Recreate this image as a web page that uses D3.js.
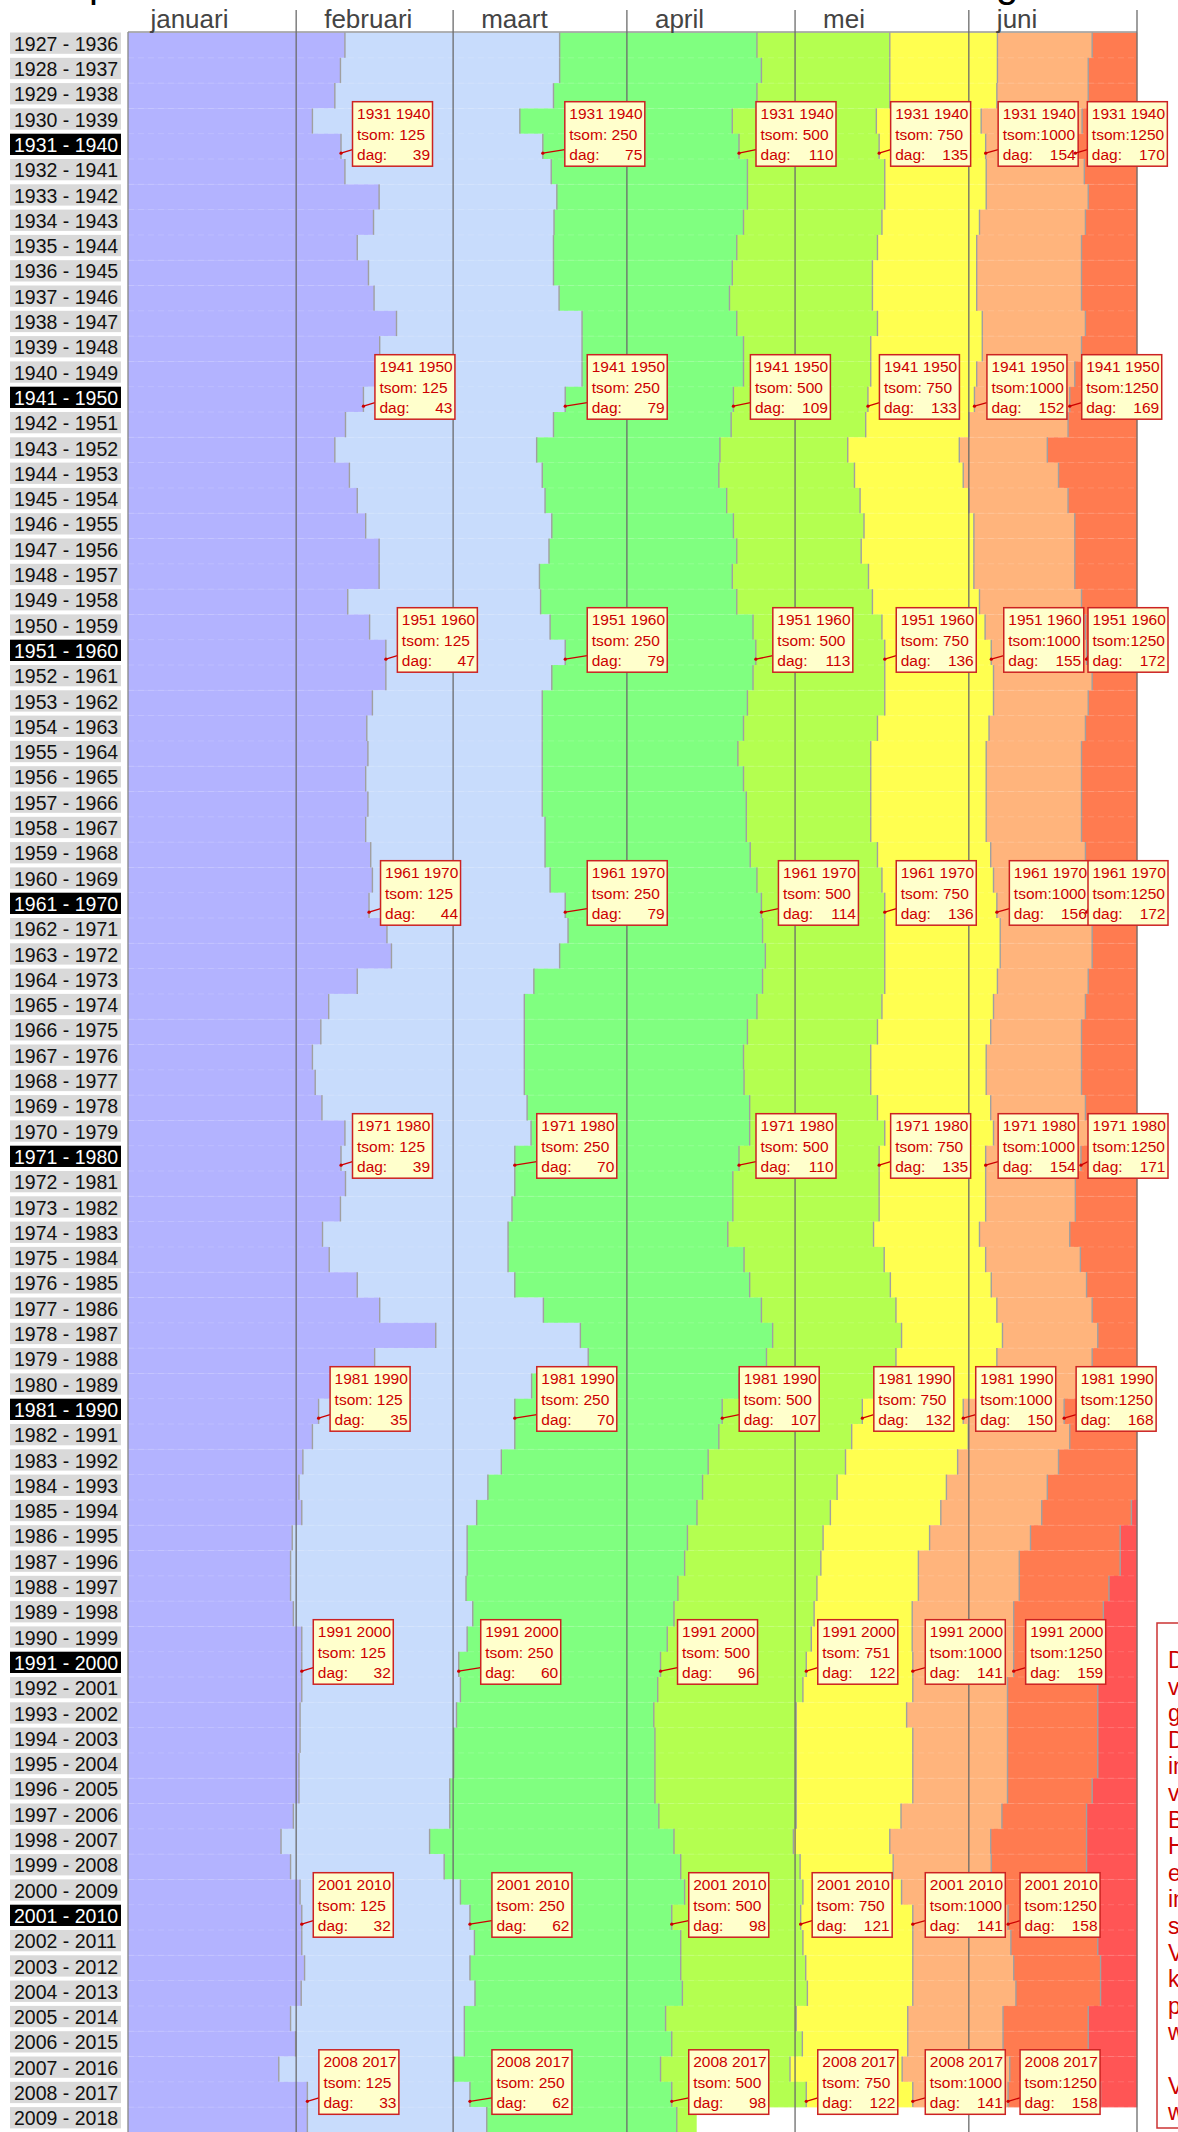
<!DOCTYPE html>
<html>
<head>
<meta charset="utf-8">
<script src="https://cdn.jsdelivr.net/npm/d3@7"></script>
<style>
body { margin: 0; background: #fff; overflow: hidden; }
svg { display: block; font-family: "Liberation Sans", Arial, sans-serif; }
</style>
</head>
<body>
<div class="container"></div>
<script>
// perioden van tien jaar
var startJaren = d3.range(1927, 2010);
var perioden = startJaren.map(function(j) { return j + " - " + (j + 9); });
var gemarkeerd = ["1931 - 1940", "1941 - 1950", "1951 - 1960", "1961 - 1970", "1971 - 1980", "1981 - 1990", "1991 - 2000", "2001 - 2010"];

// temperatuursommen en de dag van het jaar waarop ze bereikt worden
var drempels = [125, 250, 500, 750, 1000, 1250, 1500];
var dag125 = [39.7,38.9,37.9,33.9,39,39.7,45.8,44.8,41.9,43.9,
  44.9,48.9,45.9,45.9,43,39.8,37.9,40.5,41.9,43.4,
  45.8,45.8,40.2,44.1,47,47,44.6,43.6,43.8,43.4,
  43.8,43.4,44.3,44.6,44,47.2,48,41.9,36.8,35.4,
  33.9,34.4,35.6,39.7,39,39.8,38.9,35.7,36.9,41.9,
  45.9,55.9,45,38,35,33.9,32.2,31.5,32,30.3,
  30,30,30.5,32,32,32,31.7,31.7,31.5,31.5,
  30.5,28.3,30,31.7,32,32,32.5,31.9,30,30.9,
  27.9,33,33];
var dag250 = [78,78,76.9,70.9,75,76.5,77.5,77,76.9,76.9,
  77.9,82,82,82,79,76.9,73.9,74.9,75.4,76.6,
  76.1,74.4,74.6,76.3,79,76.6,74.9,74.9,74.9,74.9,
  74.9,75.4,75.4,76.3,79,79.5,78,73.4,71.7,71.7,
  71.7,71.7,72.2,72.9,70,70,69.5,68.8,68.8,70,
  75.1,81.7,83.1,73,70,70,67.6,65.2,63.2,61.5,
  61.5,61.3,62.5,61.5,60,60.3,59.6,59.1,59.1,58.4,
  58.4,54.8,57.4,60.3,62,62.8,62,62.9,61,61,
  59.1,62,65];
var dag500 = [113.2,114,113.2,108.8,110,111.5,111.5,110.8,109.6,108.8,
  108.3,109.6,110.8,110.8,109,108.6,106.6,106.4,107.8,109,
  109.6,108.8,109.6,112.5,113,112.5,111.5,110.8,109.8,110.8,
  111.3,111.3,112,113.2,114,114.2,114.7,114.2,113.2,111.5,
  110.8,110.9,111.9,111.9,110,108.9,108.9,108,110.9,111.9,
  114,116,114.9,110,107,106.4,104.5,103.5,102.5,100.8,
  100.3,99.1,98.4,97.2,96,95.5,94.8,95,95,95,
  95.7,98.4,99.6,100.3,98,99.6,99.6,99.9,96.9,98,
  96,98,98.9];
var dag750 = [136.9,136.9,136.9,134.5,135,136,136,135.5,134.7,133.8,
  133.8,134.7,133.5,133.5,133,132.6,129.4,130.6,131.6,132.3,
  131.8,133.1,133.8,135.5,136,136,136,134.7,133.5,133.5,
  133.5,133.5,134.7,135.5,136,136,136,136,135.5,134.7,
  133.5,133.5,134.7,136,135,135,135,134,135.9,137,
  138,139,138,136,132,130.1,129,127.5,126.3,125,
  124.6,123.9,123.4,122.9,122,121.4,120.2,120.2,120.2,120.2,
  120.2,119.7,120.9,121.4,121,121.4,121.9,122.2,120.2,121.3,
  119.1,122,null];
var dag1000 = [156.1,156.1,156,153.2,154,154.1,154.1,152.9,152.4,152.4,
  152.4,153.4,153.4,152.4,152,151,149.3,150,151,151.9,
  151.9,151.9,152.9,153.9,155,155.4,155.4,154.6,154.1,154.1,
  154.1,154.1,154.9,155.4,156,156.6,156.6,156.1,155.4,154.9,
  154.1,154.1,154.9,155.4,154,154,154,152.9,154,155,
  156,157,156,156,150,150.9,149,147,146,144,
  142,142,140.9,140.9,141,141,139.9,141,141,141,
  138.9,136.9,137.5,139,141,141,141,141,140.1,140.1,
  139.1,141,null];
var dag1250 = [173,172.3,172.3,171.2,170,171.6,172.3,171.8,171.1,171.1,
  171.1,171.8,171.1,169.9,169,168.7,165,167,168.7,169.9,
  169.9,169.9,171.1,171.8,172,173,172.3,171.8,171.1,171.1,
  171.1,171.1,171.8,172.3,172,173,173,172.3,171.8,171.1,
  171.1,171.1,171.8,172.3,171,170,170,169,170.9,172,
  173,174,173,173,168,169,167,165,164,162,
  160,160,159,159,159,157.9,157.9,157.9,157.9,157.9,
  156.9,154.9,155,157,158,158.5,159,159.4,157.1,157.1,
  158.3,158,null];
var dag1500 = [null,null,null,null,null,null,null,null,null,null,
  null,null,null,null,null,null,null,null,null,null,
  null,null,null,null,null,null,null,null,null,null,
  null,null,null,null,null,null,null,null,null,null,
  null,null,null,null,null,null,null,null,null,null,
  null,null,null,null,null,null,null,null,180,178,
  178,176,175,175,175,174,174,174,174,173,
  172,172,172,173,173.5,174,174.5,174.5,172.3,172.3,
  173.4,174.5,null];
// de laatste periode heeft nog geen volledig jaar
var laatstePeriodeTot = 102.4;

// maanden
var maanden = ["januari", "februari", "maart", "april", "mei", "juni"];
var maandStart = [0, 31, 59, 90, 120, 151];
var eindDag = 181;

// labels met tsom en dag
var labelPerioden = ["1931 - 1940", "1941 - 1950", "1951 - 1960", "1961 - 1970", "1971 - 1980", "1981 - 1990", "1991 - 2000", "2001 - 2010", "2008 - 2017"];
var labelTsom = [
  [125, 250, 500, 750, 1000, 1250],
  [125, 250, 500, 750, 1000, 1250],
  [125, 250, 500, 750, 1000, 1250],
  [125, 250, 500, 750, 1000, 1250],
  [125, 250, 500, 750, 1000, 1250],
  [125, 250, 500, 750, 1000, 1250],
  [125, 250, 500, 751, 1000, 1250],
  [125, 250, 500, 750, 1000, 1250],
  [125, 250, 500, 750, 1000, 1250]
];

// tekstvak rechts (valt grotendeels buiten beeld)
var uitlegRegels = ["D", "v", "g", "D", "in", "v", "B", "H", "e", "in", "s", "V", "k", "p", "w", "", "V", "w"];

var reeksen = [dag125, dag250, dag500, dag750, dag1000, dag1250, dag1500];
var kleuren = ["#b3b3ff", "#c8dcfc", "#80ff80", "#b4ff50", "#ffff50", "#ffb47c", "#ff7b50", "#ff5555"];
var boxAfstand = [11.5, 22, 17, 11.5, 12.5, 12];

// canvas
var main_svg_w = 1178;
var main_svg_h = 2132;

var svg = d3.select(".container")
            .append("svg")
            .attr("width", main_svg_w)
            .attr("height", main_svg_h);

// schalen
var x = d3.scaleLinear().domain([1, eindDag]).range([128, 1137]);
var y = d3.scaleBand().domain(perioden).range([32.5, 32.5 + perioden.length * 25.3]).padding(0);
var rh = y.bandwidth();

// balken per periode opbouwen
var segmenten = [];
var randen = [];
perioden.forEach(function(p, k) {
  var eind = (k == perioden.length - 1) ? laatstePeriodeTot : eindDag;
  var van = 1;
  for (var i = 0; i < 8; i++) {
    var g = (i < 7) ? reeksen[i][k] : null;
    var tot = (g != null) ? Math.min(g, eind) : eind;
    if (tot > van) segmenten.push({periode: p, band: i, van: van, tot: tot});
    if (g != null && g < eind) randen.push({periode: p, dag: g});
    van = tot;
    if (g == null) break;
  }
});

svg.append("g")
   .attr("class", "banden")
   .selectAll("rect")
   .data(segmenten)
   .enter()
   .append("rect")
   .attr("x", function(d) { return x(d.van); })
   .attr("y", function(d) { return y(d.periode); })
   .attr("width", function(d) { return x(d.tot) - x(d.van) + 0.3; })
   .attr("height", rh + 0.3)
   .style("fill", function(d) { return kleuren[d.band]; });

// grijze randjes bij de overgangen
svg.append("g")
   .attr("class", "randen")
   .selectAll("line")
   .data(randen)
   .enter()
   .append("line")
   .attr("x1", function(d) { return x(d.dag); })
   .attr("x2", function(d) { return x(d.dag); })
   .attr("y1", function(d) { return y(d.periode); })
   .attr("y2", function(d) { return y(d.periode) + rh; })
   .style("stroke", "#a0a0a0")
   .style("stroke-width", 1.4);

// vage scheidingslijnen tussen de rijen
svg.append("g")
   .attr("class", "rijlijnen")
   .selectAll("line")
   .data(perioden.slice(1))
   .enter()
   .append("line")
   .attr("x1", x(1))
   .attr("x2", x(eindDag))
   .attr("y1", function(d) { return y(d); })
   .attr("y2", function(d) { return y(d); })
   .style("stroke", "#fff")
   .style("stroke-opacity", 0.14)
   .style("stroke-dasharray", "6,4");

// periodelabels links
var rijLabels = svg.append("g")
   .attr("class", "rijlabels")
   .selectAll("g")
   .data(perioden)
   .enter()
   .append("g")
   .attr("transform", function(d) { return "translate(10," + y(d) + ")"; });

rijLabels.append("rect")
   .attr("width", 111)
   .attr("height", 21.3)
   .style("fill", function(d) { return gemarkeerd.indexOf(d) >= 0 ? "#000" : "#d9d9d9"; });

rijLabels.append("text")
   .attr("x", 4)
   .attr("y", 18.3)
   .style("font-size", "19.5px")
   .style("fill", function(d) { return gemarkeerd.indexOf(d) >= 0 ? "#fff" : "#111"; })
   .text(function(d) { return d; });

// assen: maandlijnen en kader
var as = svg.append("g").attr("class", "as");

as.append("line")
  .attr("x1", x(1)).attr("x2", x(eindDag))
  .attr("y1", 32).attr("y2", 32)
  .style("stroke", "#999").style("stroke-width", 1.5);

as.append("line")
  .attr("x1", x(1)).attr("x2", x(1))
  .attr("y1", 32).attr("y2", main_svg_h)
  .style("stroke", "#888").style("stroke-width", 1.3);

as.selectAll(".maandlijn")
  .data(maandStart.slice(1).concat([eindDag]))
  .enter()
  .append("line")
  .attr("class", "maandlijn")
  .attr("x1", function(d) { return x(d); })
  .attr("x2", function(d) { return x(d); })
  .attr("y1", 10)
  .attr("y2", main_svg_h)
  .style("stroke", "#6b6b6b")
  .style("stroke-width", 1.3);

as.selectAll(".maand")
  .data(maanden)
  .enter()
  .append("text")
  .attr("class", "maand")
  .attr("x", function(d, i) { return x(maandStart[i] + 5); })
  .attr("y", 28)
  .style("font-size", "26px")
  .style("fill", "#444")
  .text(function(d) { return d; });

// titel (alleen de onderkant is nog zichtbaar)
var titel = svg.append("g").attr("class", "titel");
titel.append("text").attr("x", 89).attr("y", -3.5).style("font-size", "40px").style("fill", "#000").text("p");
titel.append("text").attr("x", 996).attr("y", -3.5).style("font-size", "40px").style("fill", "#000").text("g");

// labels met tsom en dag
var labels = [];
labelPerioden.forEach(function(p, r) {
  var k = perioden.indexOf(p);
  for (var i = 0; i < 6; i++) {
    labels.push({periode: p, drempel: i, naam: p.replace(" - ", " "), tsom: labelTsom[r][i], dag: reeksen[i][k]});
  }
});

function boxX(d) { return Math.min(x(d.dag) + boxAfstand[d.drempel], 1088); }

var lab = svg.append("g")
   .attr("class", "labels")
   .selectAll("g")
   .data(labels)
   .enter()
   .append("g")
   .attr("transform", function(d) { return "translate(" + boxX(d) + "," + (y(d.periode) - 32) + ")"; });

lab.append("line")
   .attr("x1", 0)
   .attr("y1", 48)
   .attr("x2", function(d) { return x(d.dag) - boxX(d); })
   .attr("y2", 51.5)
   .style("stroke", "#cc0000")
   .style("stroke-width", 1.3);

lab.append("circle")
   .attr("cx", function(d) { return x(d.dag) - boxX(d); })
   .attr("cy", 51.5)
   .attr("r", 1.6)
   .style("fill", "#cc0000");

lab.append("rect")
   .attr("width", 80)
   .attr("height", 64.5)
   .style("fill", "#ffffcc")
   .style("stroke", "#cc2222")
   .style("stroke-width", 1.5);

lab.append("text")
   .attr("x", 4.5).attr("y", 17)
   .text(function(d) { return d.naam; });

lab.append("text")
   .attr("x", 4.5).attr("y", 38)
   .text(function(d) { return "tsom:" + (d.tsom < 1000 ? " " : "") + d.tsom; });

lab.append("text")
   .attr("x", 4.5).attr("y", 58.5)
   .text("dag:");

lab.append("text")
   .attr("x", 77.5).attr("y", 58.5)
   .style("text-anchor", "end")
   .text(function(d) { return Math.round(d.dag); });

lab.selectAll("text")
   .style("font-size", "15.5px")
   .style("fill", "#cc0000");

// uitleg rechts
var uitleg = svg.append("g").attr("class", "uitleg");
uitleg.append("rect")
   .attr("x", 1157).attr("y", 1623)
   .attr("width", 300).attr("height", 505)
   .style("fill", "#fff")
   .style("stroke", "#cc3333")
   .style("stroke-width", 1.5);

uitleg.selectAll("text")
   .data(uitlegRegels)
   .enter()
   .append("text")
   .attr("x", 1168)
   .attr("y", function(d, i) { return 1668 + i * 26.6; })
   .style("font-size", "23px")
   .style("fill", "#cc0000")
   .text(function(d) { return d; });
</script>
</body>
</html>
